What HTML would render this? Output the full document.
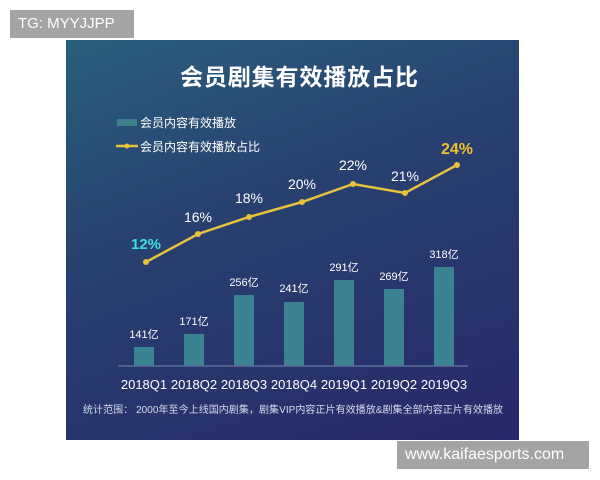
<!DOCTYPE html>
<html><head><meta charset="utf-8"><style>
body{margin:0;width:600px;height:480px;background:#fff;position:relative;overflow:hidden;font-family:"Liberation Sans","Noto Sans CJK SC",sans-serif}
.tag{position:absolute;background:#a4a4a4;color:#fff;font-size:15px;line-height:28px;padding:0 8px}
</style></head><body>
<div style="position:absolute;left:66px;top:40px;width:453px;height:400px;background:linear-gradient(160deg,#2b5f7e 0%,#27416f 40%,#28286a 100%)"></div>
<svg style="position:absolute;left:0;top:0" width="600" height="480" font-family="Liberation Sans,Noto Sans CJK SC,sans-serif">
<text x="299" y="85" fill="#fff" font-size="23" font-weight="bold" text-anchor="middle" textLength="238">会员剧集有效播放占比</text>
<rect x="117" y="119" width="20" height="7" fill="#3f7f8c"/>
<text x="140" y="127" fill="#fff" font-size="12">会员内容有效播放</text>
<line x1="116" y1="146" x2="138" y2="146" stroke="#e8c23a" stroke-width="2.5"/><circle cx="127" cy="146" r="2.5" fill="#e8c23a"/>
<text x="140" y="151" fill="#fff" font-size="12">会员内容有效播放占比</text>
<g fill="#3c8391">
<rect x="134" y="347" width="20" height="19"/><rect x="184" y="334" width="20" height="32"/><rect x="234" y="295" width="20" height="71"/><rect x="284" y="302" width="20" height="64"/><rect x="334" y="280" width="20" height="86"/><rect x="384" y="289" width="20" height="77"/><rect x="434" y="267" width="20" height="99"/>
</g>
<line x1="118" y1="366" x2="468" y2="366" stroke="#5a6f98" stroke-width="1.5"/>
<g fill="#fff" font-size="11" text-anchor="middle">
<text x="144" y="338">141亿</text><text x="194" y="325">171亿</text><text x="244" y="286">256亿</text><text x="294" y="292">241亿</text><text x="344" y="271">291亿</text><text x="394" y="280">269亿</text><text x="444" y="258">318亿</text>
</g>
<polyline points="146,262 198,234 249,217 302,202 353,184 405,193 457,165" fill="none" stroke="#e8c23a" stroke-width="2.5"/>
<g fill="#e8c23a"><circle cx="146" cy="262" r="3"/><circle cx="198" cy="234" r="3"/><circle cx="249" cy="217" r="3"/><circle cx="302" cy="202" r="3"/><circle cx="353" cy="184" r="3"/><circle cx="405" cy="193" r="3"/><circle cx="457" cy="165" r="3"/></g>
<g fill="#fff" font-size="14" text-anchor="middle">
<text x="198" y="222">16%</text><text x="249" y="203">18%</text><text x="302" y="189">20%</text><text x="353" y="170">22%</text><text x="405" y="181">21%</text>
</g>
<text x="146" y="249" fill="#3de0e0" font-size="15" font-weight="bold" text-anchor="middle">12%</text>
<text x="457" y="154" fill="#f0c030" font-size="16" font-weight="bold" text-anchor="middle">24%</text>
<g fill="#fff" font-size="13" text-anchor="middle">
<text x="144" y="389">2018Q1</text><text x="194" y="389">2018Q2</text><text x="244" y="389">2018Q3</text><text x="294" y="389">2018Q4</text><text x="344" y="389">2019Q1</text><text x="394" y="389">2019Q2</text><text x="444" y="389">2019Q3</text>
</g>
<text x="83" y="413" fill="#d8dcea" font-size="10" textLength="420">统计范围：  2000年至今上线国内剧集，剧集VIP内容正片有效播放&amp;剧集全部内容正片有效播放</text>
</svg>
<div class="tag" style="left:10px;top:10px;width:108px">TG: MYYJJPP</div>
<div class="tag" style="left:397px;top:441px;width:176px;font-size:16px">www.kaifaesports.com</div>
</body></html>
